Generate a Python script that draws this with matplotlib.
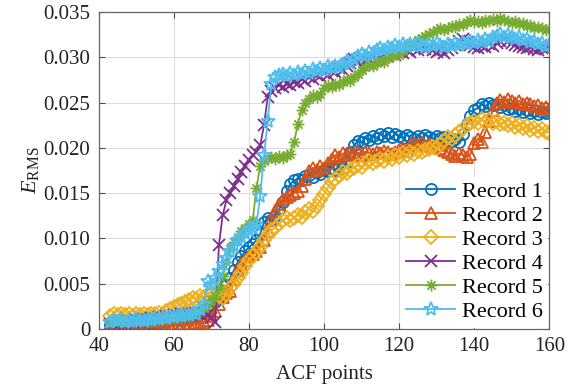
import numpy as np
import matplotlib
matplotlib.use("Agg")
import matplotlib.pyplot as plt
from matplotlib.path import Path
from matplotlib.ticker import FuncFormatter

plt.rcParams['font.family'] = ['Liberation Serif', 'DejaVu Serif']
plt.rcParams['mathtext.fontset'] = 'custom'
plt.rcParams['mathtext.rm'] = 'Liberation Serif'
plt.rcParams['mathtext.it'] = 'Liberation Serif:italic'

# ACF points (x axis)
acf_points = list(range(43, 161))

# RMS error per record, in units of 1e-3
record1 = [
    0.4, 0.6, 0.5, 0.7, 0.5, 0.6, 0.8, 0.6, 0.7, 0.5,
    0.7, 0.6, 0.8, 0.7, 0.9, 0.8, 1.0, 1.1, 1.0, 1.2,
    1.3, 1.2, 1.5, 1.4, 1.7, 1.9, 2.2, 2.6, 3.0, 3.5,
    4.2, 4.8, 5.6, 6.5, 7.4, 8.0, 8.6, 9.0, 9.4, 9.8,
    10.5, 11.8, 12.2, 12.0, 12.5, 13.2, 14.0, 15.2, 16.0, 16.4,
    16.6, 16.4, 16.9, 17.0, 16.8, 17.3, 17.1, 17.6, 17.4, 17.8,
    17.6, 18.0, 17.8, 18.4, 19.5, 20.3, 20.8, 20.6, 21.1, 20.9,
    21.3, 21.1, 21.5, 21.3, 21.6, 21.2, 21.5, 21.3, 21.1, 21.4,
    21.2, 21.0, 21.3, 21.1, 21.4, 21.2, 21.0, 21.3, 21.1, 21.2,
    20.9, 20.8, 21.0, 20.7, 21.5, 22.6, 23.5, 24.2, 24.4, 24.8,
    24.6, 25.0, 24.7, 24.9, 24.5, 24.7, 24.3, 24.4, 24.1, 24.3,
    24.0, 24.2, 23.9, 24.1, 23.8, 24.0, 23.9, 24.1,
]
record2 = [
    0.1, 0.2, 0.1, 0.3, 0.1, 0.2, 0.1, 0.3, 0.2, 0.1,
    0.2, 0.3, 0.2, 0.1, 0.3, 0.2, 0.4, 0.3, 0.5, 0.4,
    0.3, 0.5, 0.4, 0.6, 0.5, 0.8, 1.0, 1.4, 2.0, 2.8,
    3.5, 4.0, 4.2, 5.5, 6.5, 7.2, 7.6, 8.0, 8.3, 8.6,
    9.0, 9.8, 10.8, 12.0, 13.0, 13.8, 14.3, 14.6, 14.8, 15.0,
    15.2, 15.8, 16.6, 17.4, 17.8, 17.6, 18.0, 17.8, 18.3, 18.8,
    19.2, 19.0, 19.4, 19.2, 19.6, 19.3, 19.5, 19.2, 19.6, 19.4,
    19.3, 19.6, 19.4, 19.7, 19.5, 19.3, 19.6, 19.8, 20.0, 19.7,
    20.2, 20.5, 20.3, 20.6, 20.2, 20.4, 20.1, 20.3, 20.0, 19.8,
    19.5, 19.3, 19.1, 19.4, 19.2, 19.0, 19.3, 20.5, 21.0, 20.6,
    21.8, 23.0, 24.2, 25.0, 25.3, 25.1, 25.4, 25.2, 25.0, 25.2,
    24.9, 25.0, 24.8, 24.6, 24.7, 24.4, 24.5, 24.3,
]
record3 = [
    1.4, 1.6, 1.5, 1.7, 1.5, 1.6, 1.4, 1.7, 1.5, 1.6,
    1.5, 1.7, 1.6, 1.8, 1.7, 2.0, 2.2, 2.4, 2.6, 2.8,
    3.0, 3.2, 3.4, 3.3, 3.6, 3.5, 3.8, 4.0, 3.9, 3.6,
    3.4, 3.9, 4.5, 5.0, 5.6, 6.2, 7.0, 7.6, 8.0, 8.5,
    9.0, 9.8, 10.4, 10.9, 11.2, 11.6, 12.0, 12.2, 12.0, 12.3,
    12.6, 12.4, 12.9, 13.3, 13.0, 13.6, 14.2, 14.9, 15.6, 16.2,
    16.6, 16.9, 17.3, 17.2, 17.6, 17.8, 18.1, 17.9, 18.3, 18.5,
    18.3, 18.6, 18.8, 18.6, 19.0, 18.8, 19.2, 19.0, 19.4, 19.2,
    19.5, 19.3, 19.7, 19.5, 19.8, 19.9, 20.1, 20.0, 20.4, 20.8,
    21.2, 21.0, 21.4, 21.8, 22.1, 22.5, 22.8, 23.0, 22.7, 23.2,
    22.9, 23.1, 22.8, 23.0, 22.6, 22.8, 22.5, 22.7, 22.3, 22.5,
    22.2, 22.4, 22.0, 22.2, 21.9, 22.1, 21.8, 21.7,
]
record4 = [
    0.5, 0.7, 0.6, 0.8, 0.7, 0.9, 0.8, 1.0, 0.9, 1.1,
    1.0, 1.2, 1.1, 1.3, 1.2, 1.4, 1.3, 1.5, 1.4, 1.6,
    1.5, 1.7, 1.6, 1.8, 1.7, 1.9, 1.6, 1.2, 0.8, 9.3,
    12.6, 14.2, 15.0, 15.8, 16.6, 17.3, 18.0, 18.7, 19.2, 19.6,
    20.3, 22.5, 25.6, 26.3, 26.6, 26.9, 26.7, 27.1, 26.9, 27.3,
    27.2, 27.6, 27.4, 27.8, 27.6, 28.0, 27.9, 28.3, 28.1, 28.5,
    28.4, 28.8, 28.6, 29.1, 29.4, 29.8, 29.5, 29.9, 29.6, 29.8,
    30.0, 29.7, 30.2, 30.4, 30.1, 30.5, 30.3, 30.7, 30.5, 30.8,
    30.6, 31.0, 30.8, 31.1, 30.9, 31.2, 30.8, 30.6, 30.8, 30.5,
    30.8, 31.0, 31.4, 31.8, 32.0, 31.7, 31.4, 31.2, 31.0, 31.3,
    31.2, 31.5, 31.3, 31.6, 31.8, 32.0, 31.8, 31.6, 31.4, 31.3,
    31.2, 31.0, 31.1, 30.9, 30.8, 31.0, 30.9, 31.1,
]
record5 = [
    0.8, 1.0, 0.9, 1.1, 0.9, 1.0, 0.8, 1.1, 0.9, 1.0,
    1.1, 0.9, 1.2, 1.0, 1.2, 1.1, 1.3, 1.2, 1.4, 1.3,
    1.5, 1.4, 1.6, 1.8, 2.0, 2.3, 2.8, 3.2, 3.6, 4.5,
    5.8, 7.4, 8.8, 9.6, 10.2, 10.8, 11.2, 11.6, 12.0, 15.6,
    18.0, 18.6, 18.9, 19.0, 18.8, 19.1, 18.9, 19.2, 19.3, 20.6,
    22.6, 24.2, 25.0, 25.4, 25.8, 25.6, 26.0, 26.6, 26.9, 26.7,
    27.1, 26.9, 27.3, 27.6, 27.4, 27.8, 28.2, 28.6, 28.9, 29.2,
    29.0, 29.4, 29.7, 29.5, 29.9, 30.2, 30.5, 30.3, 30.8, 31.0,
    31.3, 31.6, 31.9, 32.1, 32.4, 32.6, 32.8, 33.0, 33.2, 33.0,
    33.3, 33.5, 33.4, 33.7, 33.6, 33.9, 34.1, 33.9, 34.0, 33.8,
    34.1, 34.0, 34.2, 34.0, 34.3, 34.1, 34.0, 33.8, 34.0, 33.7,
    33.8, 33.5, 33.6, 33.3, 33.4, 33.2, 33.0, 33.1,
]
record6 = [
    0.8, 1.0, 0.9, 1.1, 0.8, 1.0, 0.9, 1.1, 1.0, 0.9,
    1.1, 1.0, 1.2, 1.1, 1.3, 1.2, 1.4, 1.3, 1.5, 1.4,
    1.6, 1.5, 1.8, 1.7, 2.2, 2.8, 5.3, 4.8, 5.6, 6.4,
    7.2, 7.8, 8.6, 9.2, 9.8, 10.2, 10.6, 10.9, 11.2, 11.6,
    14.7, 19.2, 23.0, 27.1, 27.8, 28.0, 28.2, 27.9, 28.3, 28.1,
    28.4, 28.2, 28.5, 28.3, 28.7, 28.5, 28.8, 28.6, 29.0, 28.8,
    29.1, 28.9, 29.3, 29.6, 29.4, 29.8, 30.1, 30.4, 30.2, 30.6,
    30.4, 30.8, 31.0, 30.8, 31.2, 31.0, 31.4, 31.2, 31.5, 31.3,
    31.5, 31.3, 31.6, 31.4, 31.2, 31.5, 31.3, 31.6, 31.4, 31.2,
    31.5, 31.3, 31.6, 31.4, 31.7, 31.5, 31.8, 31.6, 31.9, 31.7,
    32.0, 31.8, 32.2, 32.4, 32.6, 32.3, 32.5, 32.2, 32.0, 32.2,
    31.9, 32.0, 31.7, 31.8, 31.5, 31.6, 31.3, 31.4,
]

labels = ["Record 1", "Record 2", "Record 3", "Record 4", "Record 5", "Record 6"]
colors = ["#0072BD", "#D95319", "#EDB120", "#7E2F8E", "#77AC30", "#4DBEEE"]

# eight-armed asterisk marker
_arms = []
_codes = []
for ang in np.deg2rad([0, 45, 90, 135]):
    c, s = np.cos(ang), np.sin(ang)
    _arms += [(-c, -s), (c, s)]
    _codes += [Path.MOVETO, Path.LINETO]
asterisk = Path(_arms, _codes)

markers = ["o", "^", "D", "x", asterisk, "*"]
msizes = [8, 8.5, 7.5, 8, 8.5, 10.5]

fig = plt.figure(figsize=(5.68, 3.92), dpi=100)
ax = fig.add_axes([0.174, 0.161, 0.793, 0.808])

series = [record1, record2, record3, record4, record5, record6]
x = np.array(acf_points)
for vals, lab, col, mk, ms in zip(series, labels, colors, markers, msizes):
    y = np.array(vals) * 1e-3
    ax.plot(x, y, color=col, lw=1.3, marker=mk, markersize=ms,
            markerfacecolor="none", markeredgecolor=col, markeredgewidth=1.3,
            label=lab)

ax.set_xlim(40, 160)
ax.set_ylim(0, 0.035)
ax.set_xticks(np.arange(40, 161, 20))
ax.set_yticks(np.arange(0, 0.0351, 0.005))
ax.yaxis.set_major_formatter(FuncFormatter(lambda v, p: "0" if abs(v) < 1e-9 else f"{v:.3f}"))

ax.grid(True, color="#dcdcdc", lw=0.8)
ax.set_axisbelow(True)
ax.tick_params(direction="in", top=True, right=True, length=4, width=0.8,
               labelsize=15, colors="0.3", labelcolor="#222222", pad=6)
for sp in ax.spines.values():
    sp.set_color("0.4")
    sp.set_linewidth(0.9)

ax.set_xlabel("ACF points", fontsize=15, color="#222222", labelpad=6)
ax.set_ylabel(r"$E_{\mathrm{RMS}}$", fontsize=16, color="#222222", labelpad=2)

leg = ax.legend(loc="lower right", fontsize=16, frameon=True, fancybox=False,
                framealpha=1, edgecolor="white", handlelength=2.2,
                handletextpad=0.3, labelspacing=0.16, borderpad=0.2,
                borderaxespad=0.1)

fig.savefig("out.png", dpi=100)
